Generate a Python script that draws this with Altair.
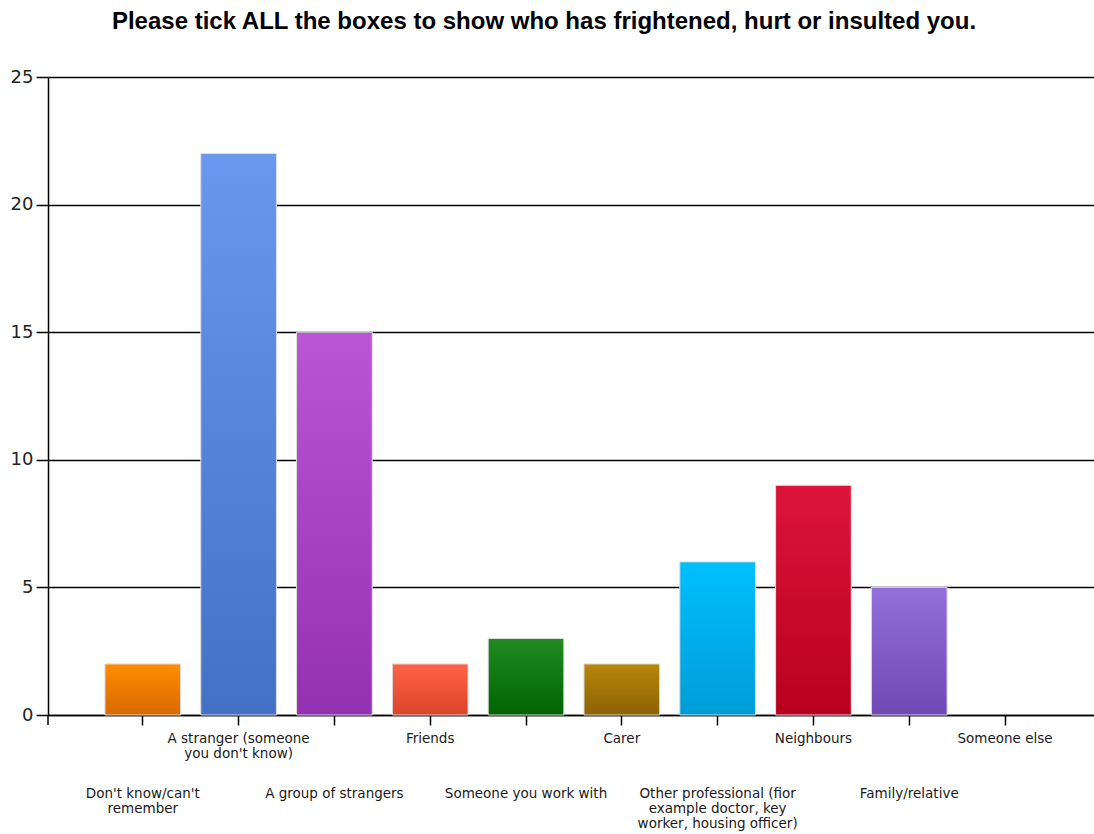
import altair as alt
import pandas as pd

categories = [
    "Don't know/can't remember",
    "A stranger (someone you don't know)",
    "A group of strangers",
    "Friends",
    "Someone you work with",
    "Carer",
    "Other professional (fior example doctor, key worker, housing officer)",
    "Neighbours",
    "Family/relative",
    "Someone else",
]
values = [2, 22, 15, 2, 3, 2, 6, 9, 5, 0]
display_labels = [
    "Don't know/can't\nremember",
    "A stranger (someone\nyou don't know)",
    "A group of strangers",
    "Friends",
    "Someone you work with",
    "Carer",
    "Other professional (fior\nexample doctor, key\nworker, housing officer)",
    "Neighbours",
    "Family/relative",
    "Someone else",
]
top_colors = ["#FF8C00", "#6A98EE", "#BA55D6", "#FF6347", "#228B22",
              "#B8860B", "#00BFFF", "#DC143C", "#9370DB", "#999999"]
bottom_colors = ["#D96A00", "#4470C6", "#9430B2", "#DA4428", "#006400",
                 "#8C6304", "#009DD8", "#B8001E", "#6F48B5", "#777777"]

df = pd.DataFrame({
    "category": categories,
    "value": values,
    "label": display_labels,
    "row": [2 if i % 2 == 0 else 1 for i in range(len(categories))],
})

W, H = 1046, 638

xscale = alt.Scale(domain=categories, paddingInner=0.21, paddingOuter=0.564, align=0.527)
x_enc = alt.X("category:N", scale=xscale, sort=categories,
              axis=alt.Axis(title=None, labels=False, domainColor="#000000",
                            domainWidth=1.5, tickColor="#000000", tickWidth=1.5,
                            tickSize=10, grid=False))
y_enc = alt.Y("value:Q", scale=alt.Scale(domain=[0, 25], nice=False),
              axis=alt.Axis(title=None, values=[0, 5, 10, 15, 20, 25],
                            grid=True, gridColor="#000000", gridWidth=1.5,
                            domainColor="#000000", domainWidth=1.5,
                            tickColor="#000000", tickWidth=1.5, tickSize=12,
                            labelFont="DejaVu Sans", labelFontSize=18,
                            labelColor="#222222", labelPadding=3))

base = alt.Chart(df)

layers = []
for i, cat in enumerate(categories):
    if values[i] <= 0:
        continue
    grad = alt.Gradient(
        gradient="linear", x1=0, y1=0, x2=0, y2=1,
        stops=[alt.GradientStop(color=top_colors[i], offset=0),
               alt.GradientStop(color=bottom_colors[i], offset=1)],
    )
    layers.append(
        base.transform_filter(alt.datum.category == cat)
        .mark_bar(fill=grad, stroke="#DDDDDD", strokeWidth=1)
        .encode(x=x_enc, y=y_enc)
    )

corner_tick = alt.Chart(pd.DataFrame({"k": [0]})).mark_rule(
    color="#000000", strokeWidth=1.5
).encode(x=alt.value(0), y=alt.value(H), y2=alt.value(H + 10))

text_style = dict(font="DejaVu Sans", fontSize=13.5, baseline="top", align="center",
                  lineBreak="\n", lineHeight=15, color="#1a1a1a")

row1 = base.transform_filter(alt.datum.row == 1).mark_text(**text_style).encode(
    x=alt.X("category:N", scale=xscale, sort=categories), y=alt.value(H + 17), text="label:N")

row2 = base.transform_filter(alt.datum.row == 2).mark_text(**text_style).encode(
    x=alt.X("category:N", scale=xscale, sort=categories), y=alt.value(H + 72), text="label:N")

chart = alt.layer(*layers, corner_tick, row1, row2).properties(
    width=W, height=H,
    title=alt.TitleParams(
        "Please tick ALL the boxes to show who has frightened, hurt or insulted you.",
        font="Liberation Sans", fontSize=24, fontWeight="bold", color="#000000",
        anchor="middle", dx=-27, offset=34,
    ),
    autosize=alt.AutoSizeParams(type="none"),
    padding={"left": 48, "top": 77, "right": 0, "bottom": 119},
).configure_view(stroke=None).configure(background="#ffffff")

chart.save("out.html", embed_options={"renderer": "svg", "actions": False})
